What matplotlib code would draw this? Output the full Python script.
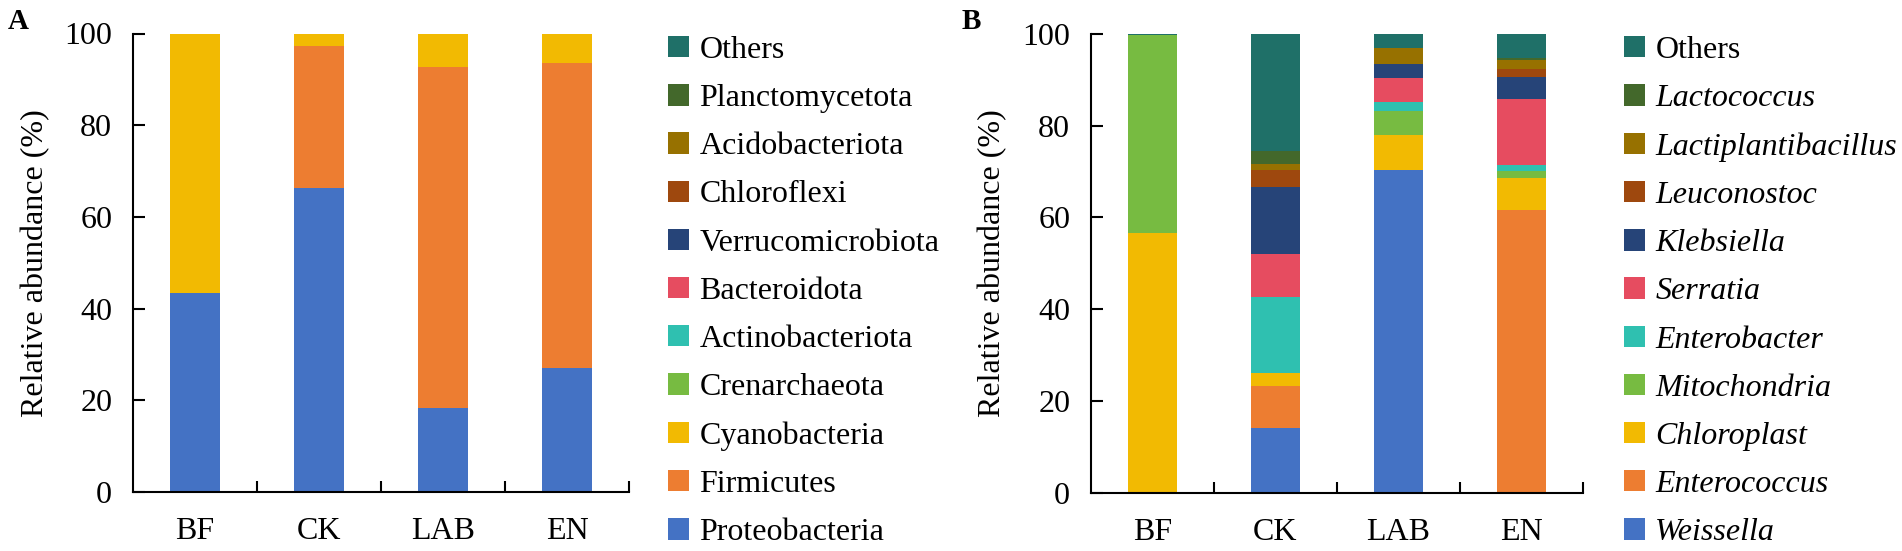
import numpy as np
import matplotlib.pyplot as plt

plt.rcParams['font.family'] = ['Liberation Serif', 'DejaVu Serif']

samples = ["BF", "CK", "LAB", "EN"]

# panel A: phylum level (%)
phyla = ["Proteobacteria", "Firmicutes", "Cyanobacteria", "Crenarchaeota",
         "Actinobacteriota", "Bacteroidota", "Verrucomicrobiota", "Chloroflexi",
         "Acidobacteriota", "Planctomycetota", "Others"]
proteobacteria = [43.4, 66.2, 18.4, 27.1]
firmicutes = [0.0, 31.1, 74.2, 66.4]
cyanobacteria = [56.6, 2.7, 7.4, 6.5]
crenarchaeota = [0, 0, 0, 0]
actinobacteriota = [0, 0, 0, 0]
bacteroidota = [0, 0, 0, 0]
verrucomicrobiota = [0, 0, 0, 0]
chloroflexi = [0, 0, 0, 0]
acidobacteriota = [0, 0, 0, 0]
planctomycetota = [0, 0, 0, 0]
others_a = [0, 0, 0, 0]

# panel B: genus level (%)
genera = ["Weissella", "Enterococcus", "Chloroplast", "Mitochondria",
          "Enterobacter", "Serratia", "Klebsiella", "Leuconostoc",
          "Lactiplantibacillus", "Lactococcus", "Others"]
weissella = [0.0, 14.0, 70.4, 0.0]
enterococcus = [0.0, 9.2, 0.0, 61.7]
chloroplast = [56.5, 2.9, 7.5, 7.0]
mitochondria = [43.2, 0.0, 5.3, 1.4]
enterobacter = [0.0, 16.5, 1.9, 1.4]
serratia = [0.0, 9.4, 5.2, 14.3]
klebsiella = [0.0, 14.7, 3.1, 4.9]
leuconostoc = [0.0, 3.6, 0.0, 1.6]
lactiplantibacillus = [0.0, 1.3, 3.6, 2.0]
lactococcus = [0.0, 2.9, 0.0, 0.5]
others_b = [0.3, 25.5, 3.0, 5.2]

colors = ["#4472C4", "#ED7D31", "#F2BA02", "#77BB41", "#2FC0B0", "#E64C60",
          "#264478", "#9E480E", "#977100", "#43682B", "#1F7068"]

series_a = [proteobacteria, firmicutes, cyanobacteria, crenarchaeota,
            actinobacteriota, bacteroidota, verrucomicrobiota, chloroflexi,
            acidobacteriota, planctomycetota, others_a]
series_b = [weissella, enterococcus, chloroplast, mitochondria, enterobacter,
            serratia, klebsiella, leuconostoc, lactiplantibacillus,
            lactococcus, others_b]

FS = 23

fig = plt.figure(figsize=(19.02, 5.51), dpi=100)
W, H = 1902, 551
ax_a = fig.add_axes([133 / W, 1 - 492 / H, (629 - 133) / W, (492 - 33.5) / H])
ax_b = fig.add_axes([1091 / W, 1 - 492.5 / H, (1583 - 1091) / W, (492.5 - 34) / H])


def draw(ax, names, series, italic, legend_x, ylab_x):
    x = np.arange(len(samples))
    bottom = np.zeros(len(samples))
    handles = []
    for name, vals, c in zip(names, series, colors):
        vals = np.array(vals, dtype=float)
        h = ax.bar(x, vals, width=0.4, bottom=bottom, color=c, label=name)
        handles.append(h)
        bottom += vals
    ax.set_xlim(-0.5, 3.5)
    ax.set_ylim(0, 100)
    ax.set_yticks([0, 20, 40, 60, 80, 100])
    ax.set_xticks(x)
    ax.set_xticklabels(samples)
    ax.set_xticks([0.5, 1.5, 2.5, 3.5], minor=True)
    ax.tick_params(axis="x", which="major", length=0, pad=18, labelsize=FS)
    ax.tick_params(axis="x", which="minor", direction="in", length=8, width=1.5)
    ax.tick_params(axis="y", direction="in", length=8.5, width=1.5, pad=15,
                   labelsize=FS)
    for s in ["top", "right"]:
        ax.spines[s].set_visible(False)
    for s in ["left", "bottom"]:
        ax.spines[s].set_linewidth(1.5)
    ax.set_ylabel("Relative abundance (%)", fontsize=FS)
    ax.yaxis.set_label_coords(ylab_x, 0.5)
    leg = ax.legend(handles[::-1], names[::-1], loc="upper left",
                    bbox_to_anchor=(legend_x / W, 1 - 36 / H),
                    bbox_transform=fig.transFigure, frameon=False,
                    fontsize=FS, handlelength=0.65, handleheight=0.65,
                    handletextpad=0.33, labelspacing=0.6, borderpad=0,
                    borderaxespad=0)
    if italic:
        for t in leg.get_texts():
            if t.get_text() != "Others":
                t.set_style("italic")


draw(ax_a, phyla, series_a, False, 668, -0.167)
draw(ax_b, genera, series_b, True, 1624, -0.171)

fig.text(8 / W, 1 - 8 / H, "A", fontsize=21, fontweight="bold", va="top")
fig.text(962 / W, 1 - 8 / H, "B", fontsize=21, fontweight="bold", va="top")

fig.savefig("out.png", dpi=100)
